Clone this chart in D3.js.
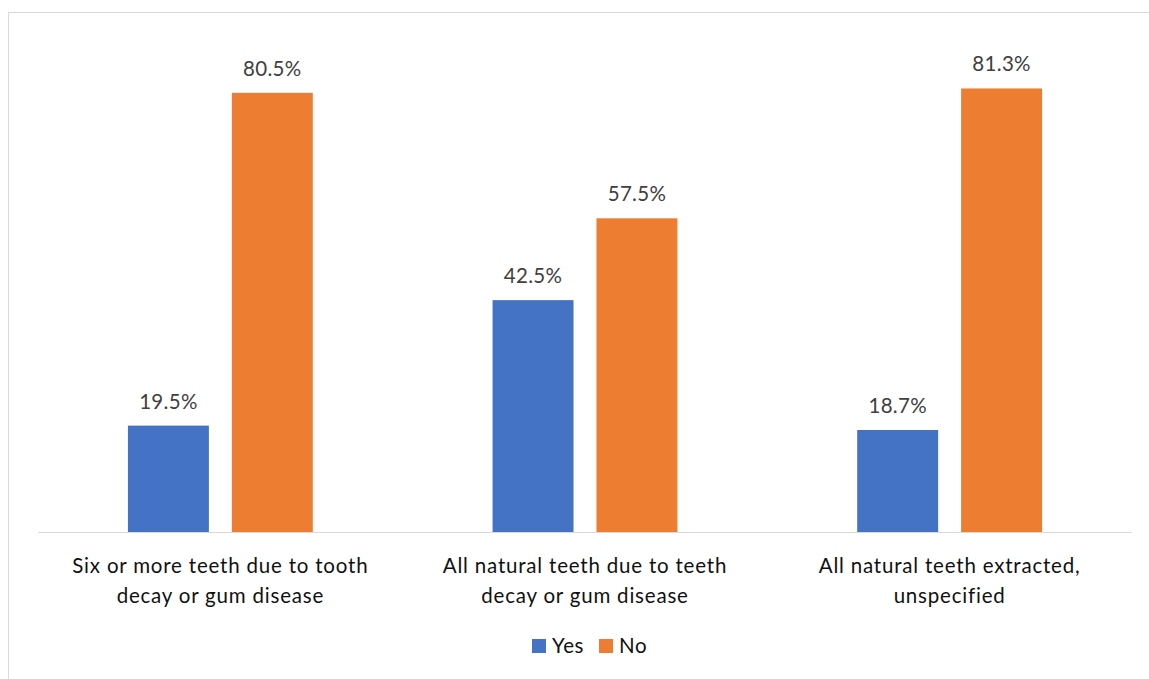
<!DOCTYPE html>
<html>
<head>
<meta charset="utf-8">
<script src="https://cdn.jsdelivr.net/npm/d3@7"></script>
<style>
  html, body { margin: 0; padding: 0; background: #fff; }
  svg { display: block; }
  text { font-family: Lato, "Noto Sans", sans-serif; }
</style>
</head>
<body>
<svg id="chart" width="1149" height="679"></svg>
<script>
// Tooth loss categories (each label split into two lines)
const categories = [
  ["Six or more teeth due to tooth", "decay or gum disease"],
  ["All natural teeth due to teeth", "decay or gum disease"],
  ["All natural teeth extracted,", "unspecified"]
];
const seriesNames = ["Yes", "No"];
const yesValues = [19.5, 42.5, 18.7];
const noValues = [80.5, 57.5, 81.3];
const colors = ["#4472c4", "#ed7d31"];

const W = 1149, H = 679;
const svg = d3.select("#chart");

// Outer frame
svg.append("rect")
  .attr("x", 8.5).attr("y", 12.5)
  .attr("width", W + 20).attr("height", H + 20)
  .attr("fill", "#fff").attr("stroke", "#d9d9d9").attr("stroke-width", 1);

const plot = { left: 38, right: 1132, top: 41, bottom: 532 };

const rows = categories.map((c, i) => ({ key: i, label: c, values: [yesValues[i], noValues[i]] }));

const x0 = d3.scaleBand()
  .domain(rows.map(r => r.key))
  .range([plot.left, plot.right])
  .paddingInner(0.493)
  .paddingOuter(0.2466);

const x1 = d3.scaleBand()
  .domain(seriesNames)
  .range([0, x0.bandwidth()])
  .paddingInner(0.221);

const y = d3.scaleLinear().domain([0, 90]).range([plot.bottom, plot.top]);

const groups = svg.append("g").selectAll("g")
  .data(rows)
  .join("g")
  .attr("transform", d => `translate(${x0(d.key)},0)`);

const bars = groups.selectAll("g.bar")
  .data(d => d.values.map((v, j) => ({ series: seriesNames[j], value: v, idx: j })))
  .join("g").attr("class", "bar");

bars.append("rect")
  .attr("x", d => x1(d.series))
  .attr("y", d => y(d.value))
  .attr("width", x1.bandwidth())
  .attr("height", d => y(0) - y(d.value))
  .attr("fill", d => colors[d.idx]);

bars.append("text")
  .attr("x", d => x1(d.series) + x1.bandwidth() / 2)
  .attr("y", d => y(d.value) - 17)
  .attr("text-anchor", "middle")
  .attr("font-size", 20.5)
  .attr("letter-spacing", 0.3)
  .attr("fill", "#404040")
  .text(d => d3.format(".1f")(d.value) + "%");

// Category axis line
svg.append("line")
  .attr("x1", plot.left).attr("x2", plot.right)
  .attr("y1", plot.bottom + 0.5).attr("y2", plot.bottom + 0.5)
  .attr("stroke", "#d9d9d9").attr("stroke-width", 1);

// Category labels
const labels = svg.append("g").selectAll("text")
  .data(rows)
  .join("text")
  .attr("text-anchor", "middle")
  .attr("font-size", 20.5)
  .attr("letter-spacing", 0.8)
  .attr("fill", "#111");
labels.selectAll("tspan")
  .data(d => d.label.map((t, k) => ({ t, k, cx: x0(d.key) + x0.bandwidth() / 2 })))
  .join("tspan")
  .attr("x", d => d.cx)
  .attr("y", d => 573 + d.k * 30)
  .text(d => d.t);

// Legend
const legendItems = [
  { name: seriesNames[0], color: colors[0], x: 532 },
  { name: seriesNames[1], color: colors[1], x: 599 }
];
const lg = svg.append("g").selectAll("g").data(legendItems).join("g")
  .attr("transform", d => `translate(${d.x},639)`);
lg.append("rect").attr("width", 14).attr("height", 14).attr("fill", d => d.color);
lg.append("text").attr("x", 20).attr("y", 14)
  .attr("font-size", 20.5).attr("letter-spacing", 0.6).attr("fill", "#111")
  .text(d => d.name);
</script>
</body>
</html>
